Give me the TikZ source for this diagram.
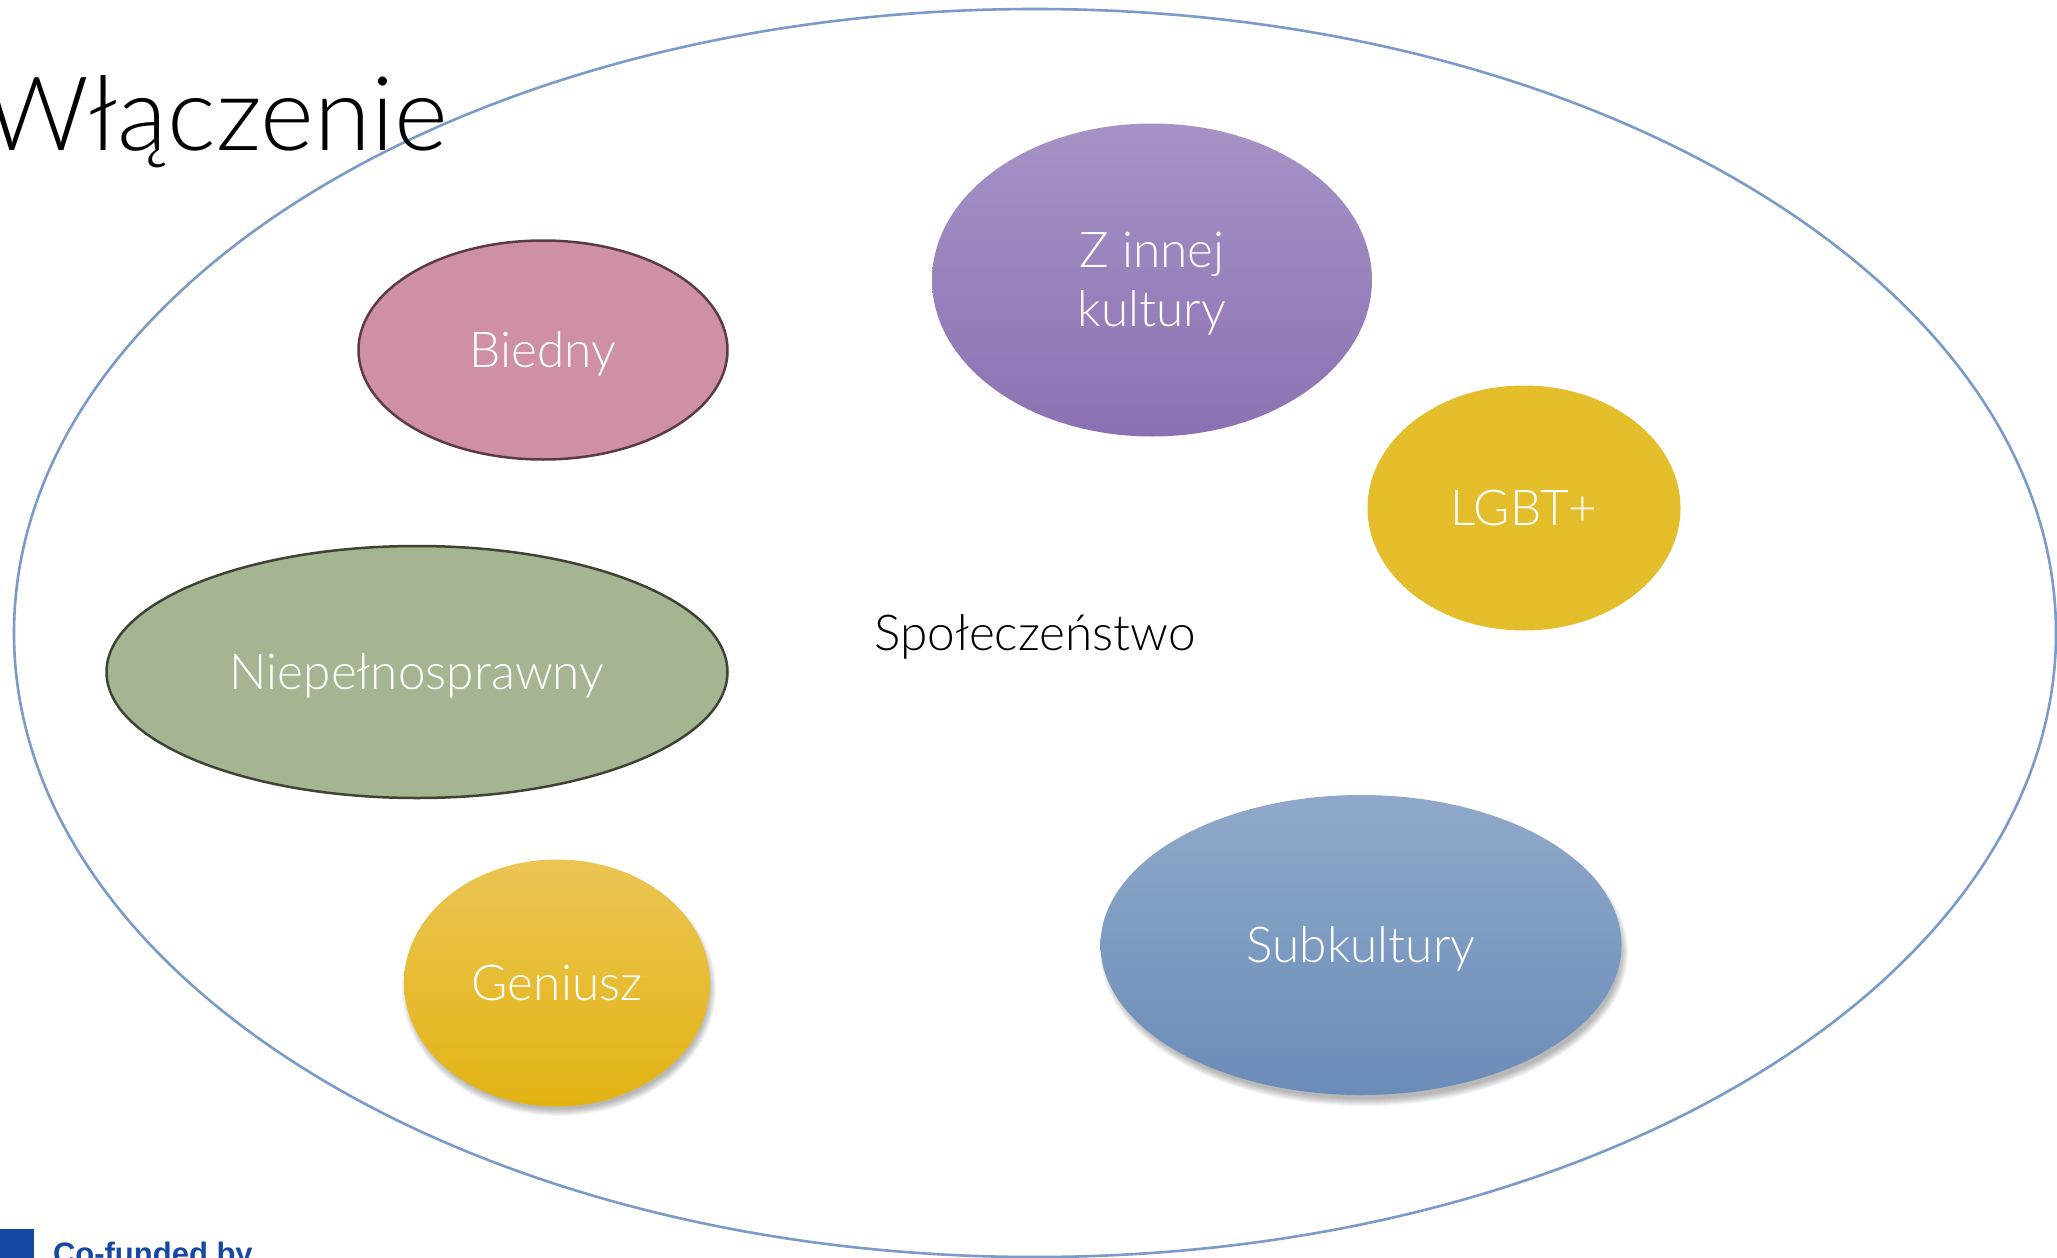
\documentclass[tikz,border=0pt]{standalone}
\usepackage{fontspec}
\usetikzlibrary{shapes.geometric}
\newfontfamily\avfont{Lato Light}
\newfontfamily\eufont{Liberation Sans}[BoldFont={Liberation Sans Bold}]
\newcommand\lblfont{\avfont\fontsize{49.5}{59}\selectfont}
\newcommand\ttlfont{\avfont\fontsize{103}{120}\selectfont}
\definecolor{bigline}{HTML}{7A9AC9}
\definecolor{pinkfill}{HTML}{CF8FA4}
\definecolor{pinkline}{HTML}{5C3A47}
\definecolor{purtop}{HTML}{A593C7}
\definecolor{purbot}{HTML}{8C71B2}
\definecolor{lgbtfill}{HTML}{E4BD2A}
\definecolor{greenfill}{HTML}{A5B592}
\definecolor{greenline}{HTML}{3D4433}
\definecolor{gentop}{HTML}{EBC553}
\definecolor{genbot}{HTML}{E3B313}
\definecolor{subtop}{HTML}{8FA9CA}
\definecolor{subbot}{HTML}{6B8CB8}
\definecolor{eublue}{HTML}{1548A0}
\begin{document}
\begin{tikzpicture}[x=1pt,y=-1pt,
  every node/.style={inner sep=0pt, outer sep=0pt},
  blob/.style={ellipse, align=center, text=white, font=\lblfont, text height=35pt, text depth=0pt},
  softshadow/.style={black, opacity=0.04}]
\useasboundingbox (0,0) rectangle (2057,1258);
% society
\node[ellipse, draw=bigline, line width=2.6pt, minimum width=2042, minimum height=1248,
      font=\lblfont, text height=35pt, text depth=0pt] (soc) at (1035,633) {Społeczeństwo};
% title
\node[anchor=base west, font=\ttlfont] (title) at (-16,150) {Włączenie};
% groups
\node[blob, fill=pinkfill, draw=pinkline, line width=2.5pt, minimum width=369, minimum height=219] (bied) at (543,350) {Biedny};
\node[blob, top color=purtop, bottom color=purbot, minimum width=440, minimum height=313, text height=93pt, text depth=0pt] (inna) at (1152,280) {Z innej\\kultury};
\node[blob, fill=lgbtfill, minimum width=313, minimum height=245] (lgbt) at (1524,508) {LGBT+};
\node[blob, fill=greenfill, draw=greenline, line width=2.5pt, minimum width=621, minimum height=252] (niep) at (417,672) {Niepełnosprawny};
\coordinate (genc) at (557,983);
\coordinate (subc) at (1361,945);
\foreach \k in {1,...,8} {
  \fill[softshadow] ([shift={(2,6)}]genc) ellipse ({153+5-\k} and {123+5-\k});
  \fill[softshadow] ([shift={(3,7)}]subc) ellipse ({260+5-\k} and {150+5-\k});
}
\node[blob, top color=gentop, bottom color=genbot, minimum width=306, minimum height=247] (gen) at (genc) {Geniusz};
\node[blob, top color=subtop, bottom color=subbot, minimum width=521, minimum height=300] (sub) at (subc) {Subkultury};
% co-funded
\node[fill=eublue, minimum width=34, minimum height=30, anchor=north west] (flag) at (0,1229) {};
\node[anchor=base west, text=eublue, font=\eufont\bfseries\fontsize{31}{36}\selectfont] (cofund) at (53,1264) {Co-funded by};
\end{tikzpicture}
\end{document}
